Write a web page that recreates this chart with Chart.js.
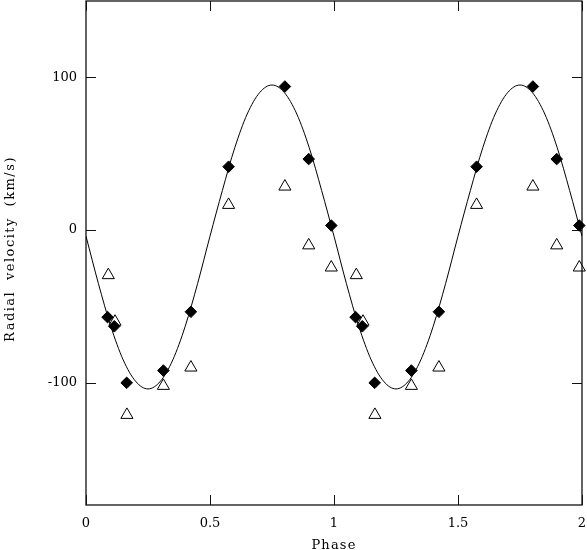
<!DOCTYPE html>
<html>
<head>
<meta charset="utf-8">
<script src="https://cdn.jsdelivr.net/npm/chart.js@4.4.0/dist/chart.umd.min.js"></script>
<style>
    html, body { margin: 0; padding: 0; background: #ffffff; }
    #wrap { width: 587px; height: 550px; }
</style>
</head>
<body>
<div id="wrap"><canvas id="rvChart"></canvas></div>
<script>
// primary star (filled diamonds), phase-folded and shown over two cycles
const primaryPhase = [0.087, 0.114, 0.164, 0.312, 0.423, 0.575, 0.802, 0.898, 0.989,
                      1.087, 1.114, 1.164, 1.312, 1.423, 1.575, 1.802, 1.898, 1.989];
const primaryVelocity = [-57, -63, -100, -92, -53.5, 41.5, 94, 46.5, 3,
                         -57, -63, -100, -92, -53.5, 41.5, 94, 46.5, 3];

// secondary star (open triangles)
const secondaryPhase = [0.090, 0.117, 0.165, 0.312, 0.423, 0.575, 0.802, 0.898, 0.989,
                        1.090, 1.117, 1.165, 1.312, 1.423, 1.575, 1.802, 1.898, 1.989];
const secondaryVelocity = [-29.5, -60, -121, -102, -90, 16.5, 28.5, -10, -24.5,
                           -29.5, -60, -121, -102, -90, 16.5, 28.5, -10, -24.5];

// fitted orbit curve
const fitPhase = [0, 0.05, 0.1, 0.15, 0.2, 0.25, 0.3, 0.35, 0.4, 0.45,
                  0.5, 0.55, 0.6, 0.65, 0.7, 0.75, 0.8, 0.85, 0.9, 0.95,
                  1, 1.05, 1.1, 1.15, 1.2, 1.25, 1.3, 1.35, 1.4, 1.45,
                  1.5, 1.55, 1.6, 1.65, 1.7, 1.75, 1.8, 1.85, 1.9, 1.95, 2];
const fitVelocity = [-4, -35, -63, -85, -99, -104, -99, -85, -63, -35,
                     -4, 26, 54, 76, 90, 95, 90, 76, 54, 26,
                     -4, -35, -63, -85, -99, -104, -99, -85, -63, -35,
                     -4, 26, 54, 76, 90, 95, 90, 76, 54, 26, -4];

const xTickLabels = ["0", "0.5", "1", "1.5", "2"];
const yTickLabels = ["-100", "0", "100"];
const xTitle = "Phase";
const yTitle = "Radial velocity (km/s)";

const X_STEP = 0.1;
const Y_STEP = 20;
const FONT = "'DejaVu Serif', serif";

function toPoints(xs, ys) {
    return xs.map((x, i) => ({ x: x, y: ys[i] }));
}

function onStep(value, step) {
    const n = value / step;
    return Math.abs(n - Math.round(n)) < 1e-6;
}

// frame and inward tick marks on all four sides
const frameTicks = {
    id: "frameTicks",
    beforeDatasetsDraw(chart) {
        const { ctx, chartArea: a, scales } = chart;
        ctx.save();
        ctx.strokeStyle = "#111";
        ctx.lineWidth = 1.3;
        ctx.strokeRect(a.left, a.top, a.right - a.left, a.bottom - a.top);

        ctx.lineWidth = 1;
        ctx.beginPath();
        scales.x.ticks.forEach(t => {
            if (!onStep(t.value, X_STEP)) return;
            const len = xTickLabels.includes(String(t.value)) ? 10 : 6;
            const px = Math.round(scales.x.getPixelForValue(t.value)) + 0.5;
            ctx.moveTo(px, a.bottom);
            ctx.lineTo(px, a.bottom - len);
            ctx.moveTo(px, a.top);
            ctx.lineTo(px, a.top + len);
        });
        scales.y.ticks.forEach(t => {
            if (!onStep(t.value, Y_STEP)) return;
            const len = yTickLabels.includes(String(t.value)) ? 10 : 6;
            const py = Math.round(scales.y.getPixelForValue(t.value)) + 0.5;
            ctx.moveTo(a.left, py);
            ctx.lineTo(a.left + len, py);
            ctx.moveTo(a.right, py);
            ctx.lineTo(a.right - len, py);
        });
        ctx.stroke();
        ctx.restore();
    }
};

// axis titles, spaced out like the original plotting package
const axisTitles = {
    id: "axisTitles",
    afterDraw(chart) {
        const { ctx, chartArea: a } = chart;
        ctx.save();
        ctx.fillStyle = "#000";
        ctx.font = "13px " + FONT;
        ctx.letterSpacing = "1.2px";
        ctx.textAlign = "center";
        ctx.textBaseline = "alphabetic";
        ctx.fillText(xTitle, (a.left + a.right) / 2, chart.height - 1);

        ctx.letterSpacing = "1.5px";
        ctx.wordSpacing = "5px";
        ctx.translate(14, (a.top + a.bottom) / 2 - 4);
        ctx.rotate(-Math.PI / 2);
        ctx.fillText(yTitle, 0, 0);
        ctx.restore();
    }
};

// transparent tick marks only serve as the gap between axis and labels
const hiddenGrid = {
    display: true,
    drawOnChartArea: false,
    drawTicks: true,
    color: "rgba(0,0,0,0)"
};

new Chart(document.getElementById("rvChart"), {
    type: "scatter",
    data: {
        datasets: [
            {
                label: "Primary",
                data: toPoints(primaryPhase, primaryVelocity),
                pointStyle: "rectRot",
                pointRadius: 5.8,
                pointBackgroundColor: "#000",
                pointBorderColor: "#000",
                pointBorderWidth: 1,
                showLine: false,
                clip: false
            },
            {
                label: "Secondary",
                data: toPoints(secondaryPhase, secondaryVelocity),
                pointStyle: "triangle",
                pointRadius: 7,
                pointBackgroundColor: "rgba(0,0,0,0)",
                pointBorderColor: "#000",
                pointBorderWidth: 1,
                showLine: false,
                clip: false
            },
            {
                label: "Fit",
                data: toPoints(fitPhase, fitVelocity),
                showLine: true,
                borderColor: "#000",
                borderWidth: 1,
                pointRadius: 0,
                cubicInterpolationMode: "monotone"
            }
        ]
    },
    options: {
        responsive: true,
        maintainAspectRatio: false,
        animation: false,
        layout: {
            autoPadding: false,
            padding: { top: 1, right: 5, left: 0, bottom: 0 }
        },
        plugins: {
            legend: { display: false },
            tooltip: { enabled: false }
        },
        scales: {
            x: {
                type: "linear",
                min: 0,
                max: 2,
                bounds: "data",
                grid: Object.assign({ tickLength: 11 }, hiddenGrid),
                border: { display: false },
                ticks: {
                    stepSize: X_STEP,
                    autoSkip: false,
                    includeBounds: false,
                    maxRotation: 0,
                    padding: 0,
                    color: "#000",
                    font: { family: FONT, size: 13 },
                    callback: v => xTickLabels.includes(String(v)) ? String(v) : null
                },
                afterFit(scale) {
                    scale.height = 45;
                    scale.paddingLeft = 0;
                    scale.paddingRight = 0;
                }
            },
            y: {
                min: -180,
                max: 150,
                bounds: "data",
                grid: Object.assign({ tickLength: 9 }, hiddenGrid),
                border: { display: false },
                ticks: {
                    stepSize: Y_STEP,
                    autoSkip: false,
                    includeBounds: false,
                    padding: 0,
                    color: "#000",
                    font: { family: FONT, size: 13 },
                    callback: v => yTickLabels.includes(String(v)) ? String(v) : null
                },
                afterFit(scale) {
                    scale.width = 86;
                    scale.paddingTop = 0;
                    scale.paddingBottom = 0;
                }
            }
        }
    },
    plugins: [frameTicks, axisTitles]
});
</script>
</body>
</html>
